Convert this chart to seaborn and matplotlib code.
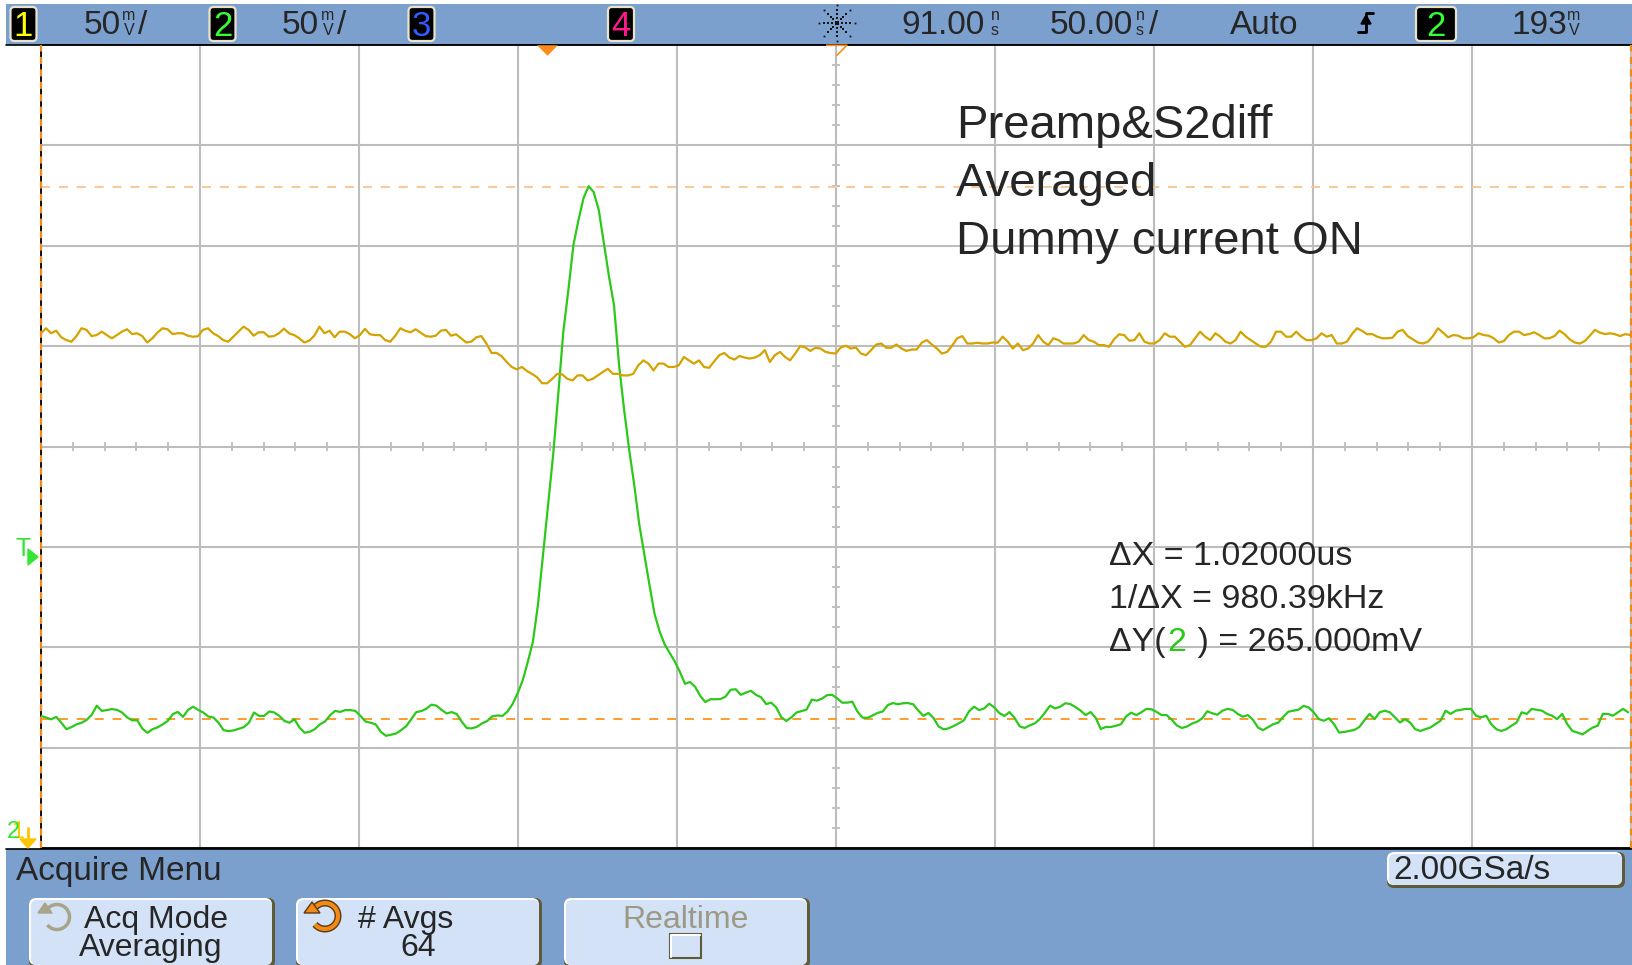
import numpy as np
import pandas as pd
import matplotlib.pyplot as plt
import seaborn as sns
from matplotlib.patches import Rectangle, FancyBboxPatch, Polygon, Arc

# scope settings
t_left, t_right = -159.0, 341.0      # ns, 91 ns delay at centre, 50 ns/div
v_bottom, v_top = 43.0, 443.0        # mV, 50 mV/div
t_trigger, t_delay, v_centre = 0.0, 91.0, 243.0
cursor_lo, cursor_hi = 107.5, 372.5  # mV, dY = 265 mV

# channel 1 (yellow), mV on screen scale
yellow_mv = [
    299.4, 301.9, 299.4, 300.7, 297.4, 296.0, 295.2, 298.0, 301.9, 301.1,
    298.0, 298.5, 300.2, 298.5, 296.9, 298.5, 300.2, 301.4, 299.0, 299.4,
    298.0, 294.8, 296.9, 299.7, 301.9, 301.4, 299.0, 299.4, 299.4, 298.2,
    297.7, 297.9, 301.1, 301.9, 299.4, 298.0, 296.0, 295.2, 297.7, 300.2,
    302.7, 301.1, 298.2, 299.9, 299.9, 297.7, 298.0, 299.4, 301.7, 299.4,
    298.5, 297.0, 294.8, 295.7, 298.2, 302.7, 299.4, 300.7, 297.4, 300.2,
    300.2, 299.0, 296.9, 298.5, 301.6, 298.9, 298.5, 298.5, 296.0, 295.2,
    298.2, 301.9, 300.6, 299.9, 301.4, 299.7, 298.0, 297.7, 298.2, 300.7,
    301.1, 298.2, 298.9, 296.9, 294.8, 295.2, 297.4, 298.0, 294.3, 289.6,
    289.6, 288.0, 285.1, 282.6, 281.4, 282.6, 280.6, 279.2, 277.5, 274.5,
    274.5, 276.7, 279.2, 278.9, 276.7,
    275.9, 278.4, 278.4, 275.9, 276.7, 278.4, 280.1, 281.7, 279.2, 279.2,
    278.4, 278.4, 279.2, 283.4, 285.9, 284.3, 280.9, 284.3, 284.3, 282.6,
    282.6, 283.4, 287.6, 285.9, 284.3, 285.9, 282.6, 282.2, 285.4, 288.5,
    289.6, 287.3, 286.3, 288.1, 287.3, 286.8, 287.3, 288.5, 291.0, 285.1,
    288.5, 290.1, 287.6, 285.9, 289.3, 293.0, 292.3, 290.6, 292.2, 291.8,
    290.1, 289.6, 289.3, 292.3, 293.2, 291.8, 292.3, 289.3, 288.5, 291.0,
    293.8, 294.3, 292.2, 292.2, 293.8, 291.8, 290.6, 291.3, 291.3, 294.7,
    296.0, 293.8, 291.8, 289.3, 290.1, 293.2, 296.9, 298.0, 294.3, 294.3,
    294.7, 294.3, 294.3, 294.8, 294.7, 297.7, 295.2, 291.8, 294.3, 291.0,
    291.8, 294.3, 298.5, 295.2, 293.5, 296.9, 296.0, 294.3, 294.3, 294.3,
    295.2, 298.5, 296.0, 295.2, 293.5,
    293.5, 292.7, 296.4, 298.9, 298.5, 295.7, 296.0, 299.4, 295.2, 294.3,
    294.3, 296.0, 299.4, 297.7, 297.7, 295.2, 292.7, 293.5, 296.9, 300.2,
    297.7, 296.0, 299.4, 297.7, 295.2, 294.3, 296.0, 300.2, 297.7, 296.0,
    294.3, 292.7, 292.7, 295.2, 300.2, 300.2, 297.7, 297.7, 300.2, 297.7,
    296.0, 296.0, 296.9, 299.4, 297.7, 298.5, 294.3, 294.3, 295.2, 299.0,
    301.9, 300.6, 298.9, 299.0, 297.7, 296.9, 296.9, 297.2, 300.2, 301.1,
    298.0, 296.4, 294.8, 294.3, 295.2, 298.0, 301.9, 299.7, 297.4, 298.5,
    298.2, 296.9, 296.9, 297.4, 299.4, 298.5, 298.2, 296.9, 294.8, 295.5,
    298.5, 300.2, 300.2, 298.5, 299.0, 299.9, 298.5, 296.9, 296.9, 298.0,
    300.7, 299.0, 296.4, 294.8, 294.3, 295.5, 298.2, 301.1, 299.7, 299.0,
    299.4, 298.9, 298.0, 299.0, 298.5,
]

# channel 2 (green), mV
green_mv = [
    108.8, 108.0, 107.1, 108.3, 105.4, 102.2, 103.2, 104.6, 105.4, 106.8,
    109.3, 113.9, 111.3, 111.7, 112.2, 111.8, 110.5, 108.0, 106.6, 106.6,
    102.4, 100.4, 102.2, 103.1, 104.6, 106.3, 109.7, 110.8, 108.3, 111.8,
    113.4, 111.8, 110.5, 108.5, 108.0, 105.4, 101.7, 101.2, 101.6, 102.4,
    103.2, 105.4, 110.5, 108.8, 108.8, 111.0, 110.5, 108.8, 106.3, 105.4,
    107.1, 102.9, 100.4, 100.9, 102.2, 104.6, 106.0, 109.1, 111.3, 110.8,
    111.7, 111.7, 111.3, 108.8, 106.0, 105.4, 104.6, 100.9, 98.9, 99.4,
    100.0, 101.7, 103.6, 107.1, 110.7, 111.2, 112.4, 114.4, 113.9, 111.8,
    110.0, 110.7, 109.7, 105.8, 102.7, 102.6, 103.4, 105.1, 106.3, 108.6,
    109.0, 108.8, 111.0, 114.7, 120.1,
    126.5, 135.7, 145.6, 164.1, 189.0, 213.9, 238.8, 268.7, 300.0, 320.9,
    343.4, 355.8, 366.8, 372.7, 369.7, 360.8, 344.3, 327.9, 313.5, 283.6,
    261.2, 241.3, 223.8, 203.9, 189.0, 174.0, 159.6,
    150.8, 144.4, 140.1, 135.8, 130.7, 124.8, 125.7, 123.3, 118.8, 115.7,
    117.1, 117.1, 117.2, 118.4, 121.8, 122.1, 119.3, 120.4, 121.3, 119.3,
    118.1, 114.7, 115.4, 113.0, 108.1, 106.3, 108.1, 110.5, 111.2, 112.0,
    116.9, 116.4, 117.4, 119.1, 119.3, 117.6, 115.4, 115.4, 115.9, 111.0,
    108.0, 107.8, 109.0, 110.3, 111.0, 114.2, 115.2, 114.6, 115.1, 115.2,
    114.6, 111.5, 108.8, 110.3, 107.8, 103.6, 102.1, 102.6, 103.8, 105.1,
    106.6, 111.0, 113.4, 111.7, 112.5, 114.9, 113.0, 110.2, 108.8, 110.7,
    107.8, 103.6, 102.8, 104.1, 105.1, 107.3, 110.5, 113.9, 112.5, 113.4,
    115.1, 114.7, 113.2, 111.5, 109.2, 110.7, 107.8, 102.3,
    103.3, 103.3, 103.9, 104.7, 108.6, 110.4, 109.2, 110.6, 112.3, 112.1,
    110.8, 109.2, 109.2, 106.9, 104.0, 102.8, 103.5, 105.0, 105.9, 107.6,
    111.1, 110.1, 109.4, 111.4, 112.3, 111.8, 109.8, 108.4, 109.2, 106.9,
    103.0, 101.7, 103.2, 104.7, 105.4, 108.4, 110.9, 111.4, 111.9, 113.8,
    113.0, 110.6, 107.2, 106.4, 107.6, 104.7, 100.5, 100.8, 101.3, 101.8,
    103.3, 106.7, 109.8, 107.2, 110.6, 111.4, 110.6, 108.1, 105.5, 107.2,
    105.5, 102.2, 101.3, 102.2, 103.0, 104.7, 106.4, 111.4, 109.8, 111.4,
    111.8, 112.3, 112.3, 108.9, 108.1, 108.9, 104.7, 102.2, 101.3, 102.2,
    103.9, 105.5, 110.6, 109.8, 112.3, 111.8, 111.4, 109.8, 108.9, 107.2,
    109.8, 104.7, 101.3, 100.5, 99.6, 101.3, 103.0, 103.9, 109.8, 109.8,
    108.9, 110.6, 112.3, 110.6,
]
yellow_last_t, green_last_t = 340.8, 340.1

# screen texts
annotation = ["Preamp&S2diff", "Averaged", "Dummy current ON"]
readout = ["\u0394X = 1.02000us", "1/\u0394X = 980.39kHz"]
dy_value = " ) = 265.000mV"
channels = [("1", "#FFFF00"), ("2", "#33FF33"), ("3", "#2F5BFF"), ("4", "#FF1A8C")]

YEL, GRN, ORG = "#D4A300", "#2CC81A", "#FF9A2E"
BLUE, BTN, GRID = "#7CA0CE", "#D3E2F6", "#BDBDBD"

sns.set_style("white")
plt.rcParams["font.family"] = ["Liberation Sans", "DejaVu Sans"]

W, H = 1633, 965
fig = plt.figure(figsize=(W / 100, H / 100), dpi=100)
fig.patch.set_facecolor("white")

bg = fig.add_axes([0, 0, 1, 1], zorder=0)
bg.set_xlim(0, W); bg.set_ylim(H, 0); bg.axis("off")
fg = fig.add_axes([0, 0, 1, 1], zorder=5)
fg.set_xlim(0, W); fg.set_ylim(H, 0); fg.axis("off")
ax = fig.add_axes([41 / W, 117 / H, 1590 / W, 803 / H], zorder=2)

# ---- frame: top status bar and bottom menu ----
bg.add_patch(Rectangle((6, 4), W - 6, 41, color=BLUE, lw=0))
bg.add_patch(Rectangle((6, 849), W - 6, H - 849, color=BLUE, lw=0))
bg.plot([6, W], [45, 45], color="black", lw=1.2)
bg.plot([6, W], [848.5, 848.5], color="black", lw=1.2)


def chan_box(xc, w, label, color):
    bg.add_patch(FancyBboxPatch((xc - w / 2, 7), w, 34, boxstyle="round,pad=0,rounding_size=4",
                                fc="black", ec="#E8E4CC", lw=1.6))
    bg.text(xc, 36, label, color=color, fontsize=25, ha="center", va="baseline")


def stacked(xc, top, bottom):
    bg.text(xc, 20, top, fontsize=11.5, ha="center", va="baseline")
    bg.text(xc, 35, bottom, fontsize=11.5, ha="center", va="baseline")


for (lab, col), xc in zip(channels, [23.5, 222.5, 421.5, 621]):
    chan_box(xc, 26, lab, col)

bg.text(84, 34, "50", fontsize=24, va="baseline"); stacked(129, "m", "V"); bg.text(138, 34, "/", fontsize=24, va="baseline")
bg.text(282, 34, "50", fontsize=24, va="baseline"); stacked(328, "m", "V"); bg.text(337, 34, "/", fontsize=24, va="baseline")
bg.text(901, 34, "91.00", fontsize=24, va="baseline"); stacked(995, "n", "s")
bg.text(1050, 34, "50.00", fontsize=24, va="baseline"); stacked(1140, "n", "s"); bg.text(1149, 34, "/", fontsize=24, va="baseline")
bg.text(1230, 34, "Auto", fontsize=24, va="baseline")
chan_box(1436, 40, "2", "#33FF33")
bg.text(1512, 34, "193", fontsize=24, va="baseline"); stacked(1574, "m", "V")

# run/stop snowflake icon (dotted spokes)
for ang in np.radians(np.arange(0, 360, 45)):
    for r, s in [(5, 2.0), (9, 1.8), (13, 1.6), (18, 1.3)]:
        bg.plot(837 + r * np.cos(ang), 23 + r * np.sin(ang), "s", ms=s, color="#111111", mew=0)
bg.plot(837, 23, "s", ms=2.2, color="#111111", mew=0)

# trigger edge symbol
bg.plot([1358, 1366, 1366, 1373], [32, 32, 13, 13], color="black", lw=2)
bg.add_patch(Polygon([[1361, 24], [1371, 24], [1366, 15]], closed=True, color="black"))

# bottom menu
bg.text(16, 880, "Acquire Menu", fontsize=24, va="baseline")


def button(x, y, w, h):
    bg.add_patch(FancyBboxPatch((x, y), w, h, boxstyle="round,pad=0,rounding_size=7", fc="#5F5A38", lw=0))
    bg.add_patch(FancyBboxPatch((x, y), w - 3, h - 3, boxstyle="round,pad=0,rounding_size=7", fc="white", lw=0))
    bg.add_patch(FancyBboxPatch((x + 2, y + 2), w - 5, h - 5, boxstyle="round,pad=0,rounding_size=6", fc=BTN, lw=0))


for bx in [29, 296, 564]:
    button(bx, 898, 246, 70)
button(1387, 852, 238, 36)
bg.text(1393, 879, "2.00GSa/s", fontsize=24, va="baseline")

bg.text(84, 928, "Acq Mode", fontsize=23, va="baseline")
bg.text(151, 956, "Averaging", fontsize=23, va="baseline", ha="center")
bg.text(358, 928, "# Avgs", fontsize=23, va="baseline")
bg.text(418, 956, "64", fontsize=23, va="baseline", ha="center")
bg.text(686, 928, "Realtime", fontsize=23, va="baseline", ha="center", color="#9C9A84")
bg.add_patch(Rectangle((670, 934), 31, 24, fc=BTN, ec="#5F5A38", lw=1.5))
bg.plot([671, 671, 700], [957, 935, 935], color="white", lw=1.5)

# rotate icons
bg.add_patch(Arc((57, 917), 25, 25, theta1=200, theta2=500, lw=2.5, color="#A8A48A"))
bg.add_patch(Polygon([[38, 913], [52, 913], [45, 903]], closed=True, color="#A8A48A"))
bg.add_patch(Arc((325, 916), 26, 26, theta1=200, theta2=500, lw=5, color="#5A3A10"))
bg.add_patch(Arc((325, 916), 26, 26, theta1=200, theta2=500, lw=3, color="#F28A1A"))
bg.add_patch(Polygon([[304, 913], [320, 913], [312, 902]], closed=True, fc="#F28A1A", ec="#5A3A10", lw=1))

# ---- waveform area ----
df = pd.concat([
    pd.DataFrame({"t": np.linspace(t_left, green_last_t, len(green_mv)), "mv": green_mv, "ch": "2"}),
    pd.DataFrame({"t": np.linspace(t_left, yellow_last_t, len(yellow_mv)), "mv": yellow_mv, "ch": "1"}),
])
sns.lineplot(data=df, x="t", y="mv", hue="ch", palette={"1": YEL, "2": GRN}, estimator=None,
             sort=False, lw=1.6, legend=False, ax=ax, zorder=4)

ax.set_xlim(t_left, t_right)
ax.set_ylim(v_bottom, v_top)
ax.set_facecolor("white")
ax.set_xticks(np.arange(t_left, t_right + 1, 50))
ax.set_yticks(np.arange(v_bottom, v_top + 1, 50))
ax.grid(True, color=GRID, lw=1.5)
ax.set_axisbelow(True)
ax.tick_params(length=0, labelbottom=False, labelleft=False)
ax.set_xlabel(""); ax.set_ylabel("")
for side, col in [("left", "black"), ("top", "black"), ("bottom", "black"), ("right", GRID)]:
    ax.spines[side].set_color(col)
    ax.spines[side].set_linewidth(1.3)

# minor ticks on the centre lines
ax.hlines(np.arange(v_bottom, v_top, 10), t_delay - 1.4, t_delay + 1.4, color=GRID, lw=1.3, zorder=1)
ax.vlines(np.arange(t_left, t_right, 10), v_centre - 2.3, v_centre + 2.3, color=GRID, lw=1.3, zorder=1)

# cursors
ax.axhline(cursor_hi, color="#FAC896", lw=1.4, ls=(0, (4.6, 4.6)), zorder=3)
ax.axhline(cursor_lo, color=ORG, lw=1.4, ls=(0, (4.6, 4.6)), zorder=3)
ax.axvline(t_left, color="#F08A1C", lw=1.6, ls=(0, (3.2, 2.4)), zorder=6, clip_on=False)
ax.axvline(t_right, color="#F08A1C", lw=1.6, ls=(0, (3.2, 2.4)), zorder=6, clip_on=False)

# trigger point / delay reference markers
tri = [(-1, 0.5), (1, 0.5), (0, -0.5)]
ax.plot([t_trigger], [0.9935], marker=tri, ms=15, color="#FF8C1A", mew=0,
        transform=ax.get_xaxis_transform(), clip_on=False, zorder=7)
ax.plot([t_delay], [0.9935], marker=tri, ms=15, mfc="none", mec="#FF8C1A", mew=1.2,
        transform=ax.get_xaxis_transform(), clip_on=False, zorder=7)

# left margin markers
fg.text(23, 556, "T", color="#33E633", fontsize=18, ha="center", va="baseline")
fg.add_patch(Polygon([[28, 549], [28, 565], [38, 557]], closed=True, color="#33E633"))
fg.text(18, 838, "1", color="#FFCC00", fontsize=17, ha="center", va="baseline")
fg.text(13, 838, "2", color="#33E633", fontsize=17, ha="center", va="baseline")
fg.plot([28, 28], [828, 840], color="#FFC400", lw=2)
fg.add_patch(Polygon([[20, 839], [36, 839], [28, 848]], closed=True, color="#FFC400"))

# annotation and cursor readout
for i, line in enumerate(annotation):
    fg.text(956, 138 + 58 * i, line, fontsize=34, va="baseline")
for i, line in enumerate(readout):
    fg.text(1109, 565 + 43 * i, line, fontsize=24.5, va="baseline")
renderer = fig.canvas.get_renderer()
head = fg.text(1109, 651, "\u0394Y(", fontsize=24.5, va="baseline")
hx = 1109 + head.get_window_extent(renderer=renderer).width + 2
fg.text(hx, 651, "2", fontsize=24.5, va="baseline", color=GRN)
two_w = fg.texts[-1].get_window_extent(renderer=renderer).width
fg.text(hx + two_w + 1, 651, dy_value, fontsize=24.5, va="baseline")

fig.savefig("out.png", dpi=100)
